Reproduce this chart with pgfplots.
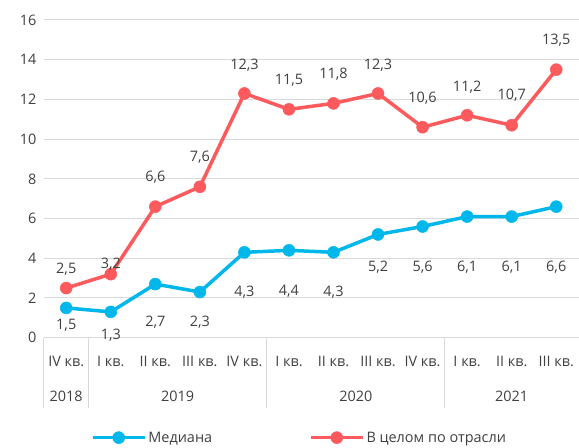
\documentclass[border=0pt]{standalone}
\usepackage{pgfplots}
\pgfplotsset{compat=1.18}
\usepackage{pgfplotstable}
\usepackage{fontspec}
\setmainfont{Open Sans}
\setsansfont{Open Sans}
\setmonofont{Open Sans}
\newcommand{\lf}{\normalfont\fontsize{14.5}{17}\selectfont}
\definecolor{medc}{RGB}{0,183,235}
\definecolor{totc}{RGB}{252,90,92}
\definecolor{txt}{RGB}{64,64,64}
\definecolor{gridc}{RGB}{217,217,217}

\pgfplotstableread{
x y off
1 1.5 -17
2 1.3 -23
3 2.7 -38
4 2.3 -30
5 4.3 -40
6 4.4 -41
7 4.3 -40
8 5.2 -33
9 5.6 -41
10 6.1 -51
11 6.1 -51
12 6.6 -61
}\med

\pgfplotstableread{
x y off
1 2.5 19
2 3.2 10
3 6.6 29
4 7.6 30
5 12.3 28
6 11.5 29
7 11.8 29
8 12.3 28
9 10.6 29
10 11.2 28
11 10.7 30
12 13.5 29
}\tot

\begin{document}
\begin{tikzpicture}[font=\lf, text=txt]
\begin{axis}[
  /pgf/number format/assume math mode=true,
  scale only axis, width=535bp, height=318bp,
  xmin=0.5, xmax=12.5, ymin=0, ymax=16,
  ytick={0,2,...,16},
  xtick={1,...,12},
  xticklabels={IV кв., I кв., II кв., III кв., IV кв., I кв., II кв., III кв., IV кв., I кв., II кв., III кв.},
  axis lines*=left,
  y axis line style={draw=none},
  x axis line style={draw=gridc, line width=1pt},
  xtick style={draw=none}, ytick style={draw=none},
  ymajorgrids, grid style={draw=gridc, line width=1pt},
  every tick label/.append style={text=txt, font=\lf},
  yticklabel style={xshift=-4bp},
  xticklabel style={yshift=-15bp, font=\lf},
  extra x ticks={0.5,1.5,5.5,9.5},
  extra x tick labels={},
  extra x tick style={grid=none, tick align=outside, major tick length=70bp,
     xtick style={draw=gridc, line width=1pt}},
  clip=false,
  legend columns=2,
  legend style={draw=none, fill=none, at={(0.478,-0.3145)}, anchor=center,
     text=txt, font=\lf,
     /tikz/every even column/.append style={column sep=95bp}},
  legend image code/.code={\draw[mark repeat=2, mark phase=2] plot coordinates {(0bp,0bp) (26bp,0bp) (52bp,0bp)};},
]
\addplot[color=medc, line width=3.5bp, mark=*, mark size=6bp,
  mark options={solid, fill=medc, draw=medc, line width=0.5bp},
  nodes near coords={\pgfmathprintnumber[assume math mode=true,use comma,fixed,fixed zerofill,precision=1]{\pgfplotspointmeta}},
  point meta=explicit,
  visualization depends on={\thisrow{off} \as \myoff},
  every node near coord/.append style={anchor=center, yshift=\myoff bp, text=txt, font=\lf}]
  table[x=x, y=y, meta=y] {\med};
\addlegendentry{Медиана}
\addplot[color=totc, line width=3.5bp, mark=*, mark size=6bp,
  mark options={solid, fill=totc, draw=totc, line width=0.5bp},
  nodes near coords={\pgfmathprintnumber[assume math mode=true,use comma,fixed,fixed zerofill,precision=1]{\pgfplotspointmeta}},
  point meta=explicit,
  visualization depends on={\thisrow{off} \as \myoff},
  every node near coord/.append style={anchor=center, yshift=\myoff bp, text=txt, font=\lf}]
  table[x=x, y=y, meta=y] {\tot};
\addlegendentry{В целом по отрасли}
\node[text=txt, font=\lf] at (axis cs:1,0) [yshift=-59bp] {2018};
\node[text=txt, font=\lf] at (axis cs:3.5,0) [yshift=-59bp] {2019};
\node[text=txt, font=\lf] at (axis cs:7.5,0) [yshift=-59bp] {2020};
\node[text=txt, font=\lf] at (axis cs:11,0) [yshift=-59bp] {2021};
\end{axis}
\path[use as bounding box] ([xshift=-44bp,yshift=-109bp]current axis.south west) rectangle ([yshift=20bp]current axis.north east);
\end{tikzpicture}
\end{document}
